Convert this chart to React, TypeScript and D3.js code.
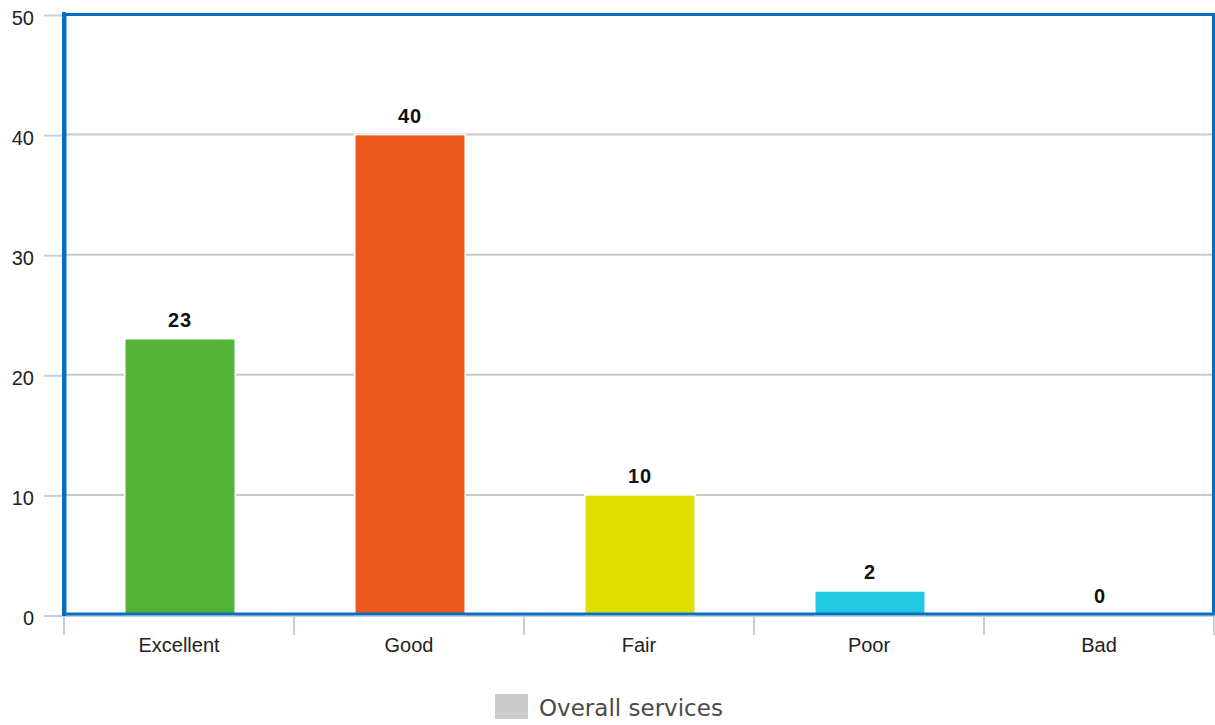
import React from "react";
import * as d3 from "d3";

const categories = ["Excellent", "Good", "Fair", "Poor", "Bad"];
const values = [23, 40, 10, 2, 0];
const barColors = ["#52b334", "#ec581d", "#dfe000", "#22c9e2", "#9b59b6"];
const yTicks = [0, 10, 20, 30, 40, 50];
const legendLabel = "Overall services";

const W = 1215;
const H = 725;
const left = 64;
const right = 1214;
const top = 14.5;
const bottom = 615;

export default function App() {
  const x = d3.scaleBand<string>().domain(categories).range([left, right]).padding(0);
  const y = d3.scaleLinear().domain([0, 50]).range([bottom, top]);
  const bw = x.bandwidth();
  const barW = bw * 0.48;
  const font = "'Liberation Sans', Arial, sans-serif";
  const boundaries = d3.range(categories.length + 1).map((i) => left + i * bw);

  return (
    <svg width={W} height={H} style={{ position: "absolute", left: 0, top: 0, display: "block" }}>
      <rect x={0} y={0} width={W} height={H} fill="#ffffff" />
      {yTicks.map((t) => (
        <g key={t}>
          <line x1={44} x2={left} y1={y(t) + 1} y2={y(t) + 1} stroke="#c0d0e3" strokeWidth={2} />
          {t > 0 && t < 50 && (
            <line x1={left} x2={right - 1} y1={y(t)} y2={y(t)} stroke="#c8c8c8" strokeWidth={2} />
          )}
          <text x={34} y={y(t) + 10} textAnchor="end" fontFamily={font} fontSize={20} fill="#222">
            {t}
          </text>
        </g>
      ))}
      <line x1={left} x2={right} y1={616} y2={616} stroke="#c0d0e3" strokeWidth={2} />
      {boundaries.map((b, i) => (
        <line key={i} x1={b} x2={b} y1={616} y2={635} stroke="#c0d0e3" strokeWidth={2} />
      ))}
      {categories.map((c, i) => {
        const cx = (x(c) as number) + bw / 2 + 1;
        const v = values[i];
        return (
          <g key={c}>
            {v > 0 && (
              <rect
                x={cx - barW / 2}
                y={y(v)}
                width={barW}
                height={bottom - y(v)}
                fill={barColors[i]}
                stroke="#ffffff"
                strokeWidth={1.5}
              />
            )}
            <text
              x={cx}
              y={y(v) - 12}
              textAnchor="middle"
              fontFamily={font}
              fontWeight="bold"
              fontSize={20}
              letterSpacing={1}
              fill="#111"
            >
              {v}
            </text>
            <text x={cx - 1} y={652} textAnchor="middle" fontFamily={font} fontSize={20} fill="#222">
              {c}
            </text>
          </g>
        );
      })}
      <line x1={left} x2={left} y1={12} y2={616} stroke="#0a6ebf" strokeWidth={4} />
      <rect
        x={left + 1}
        y={top}
        width={right - left - 1.5}
        height={bottom - 1 - top}
        fill="none"
        stroke="#0a6ebf"
        strokeWidth={3}
      />
      <rect x={495} y={694} width={33} height={25} fill="#cccccc" />
      <text x={539} y={716} fontFamily="'DejaVu Sans', sans-serif" fontSize={23} fill="#4a4a4a">
        {legendLabel}
      </text>
    </svg>
  );
}
